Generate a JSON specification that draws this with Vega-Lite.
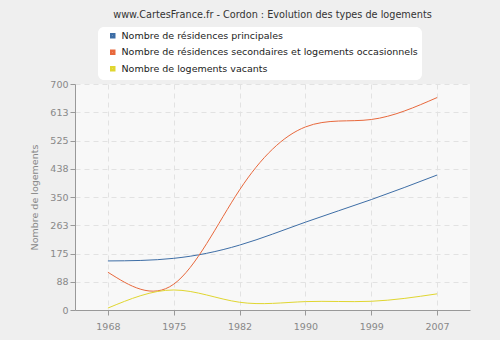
{
  "$schema": "https://vega.github.io/schema/vega-lite/v6.json",
  "width": 395,
  "height": 226,
  "autosize": "none",
  "padding": {"left": 75, "top": 84, "right": 30, "bottom": 30},
  "background": "#efefef",
  "title": {
    "text": "www.CartesFrance.fr - Cordon : Evolution des types de logements",
    "font": "DejaVu Sans",
    "fontSize": 9.7,
    "fontWeight": "normal",
    "color": "#333333",
    "anchor": "middle",
    "offset": 7
  },
  "config": {
    "view": {"fill": "#f8f8f8", "stroke": null},
    "font": "DejaVu Sans"
  },
  "data": {
    "values": [
      {"annee": "1968", "serie": "Nombre de résidences principales", "valeur": 152},
      {"annee": "1975", "serie": "Nombre de résidences principales", "valeur": 160},
      {"annee": "1982", "serie": "Nombre de résidences principales", "valeur": 201},
      {"annee": "1990", "serie": "Nombre de résidences principales", "valeur": 272},
      {"annee": "1999", "serie": "Nombre de résidences principales", "valeur": 342},
      {"annee": "2007", "serie": "Nombre de résidences principales", "valeur": 418},
      {"annee": "1968", "serie": "Nombre de résidences secondaires et logements occasionnels", "valeur": 117},
      {"annee": "1975", "serie": "Nombre de résidences secondaires et logements occasionnels", "valeur": 80},
      {"annee": "1982", "serie": "Nombre de résidences secondaires et logements occasionnels", "valeur": 372},
      {"annee": "1990", "serie": "Nombre de résidences secondaires et logements occasionnels", "valeur": 567},
      {"annee": "1999", "serie": "Nombre de résidences secondaires et logements occasionnels", "valeur": 590},
      {"annee": "2007", "serie": "Nombre de résidences secondaires et logements occasionnels", "valeur": 658},
      {"annee": "1968", "serie": "Nombre de logements vacants", "valeur": 6},
      {"annee": "1975", "serie": "Nombre de logements vacants", "valeur": 62},
      {"annee": "1982", "serie": "Nombre de logements vacants", "valeur": 24},
      {"annee": "1990", "serie": "Nombre de logements vacants", "valeur": 26},
      {"annee": "1999", "serie": "Nombre de logements vacants", "valeur": 27},
      {"annee": "2007", "serie": "Nombre de logements vacants", "valeur": 50}
    ]
  },
  "mark": {"type": "line", "interpolate": "natural", "strokeWidth": 1},
  "encoding": {
    "x": {
      "field": "annee",
      "type": "ordinal",
      "scale": {"type": "point", "padding": 0.5},
      "axis": {
        "title": null,
        "labelAngle": 0,
        "labelColor": "#888888",
        "labelFontSize": 9.5,
        "labelPadding": 6,
        "domainColor": "#999999",
        "tickColor": "#999999",
        "tickSize": 5,
        "grid": true,
        "gridColor": "#e2e2e2",
        "gridDash": [5, 4]
      }
    },
    "y": {
      "field": "valeur",
      "type": "quantitative",
      "scale": {"domain": [0, 700], "nice": false, "zero": true},
      "axis": {
        "title": "Nombre de logements",
        "titleColor": "#888888",
        "titleFontSize": 9.5,
        "titleFontWeight": "normal",
        "titlePadding": 10,
        "values": [0, 87.5, 175, 262.5, 350, 437.5, 525, 612.5, 700],
        "format": ".0f",
        "labelColor": "#888888",
        "labelFontSize": 9.5,
        "domainColor": "#999999",
        "tickColor": "#999999",
        "tickSize": 5,
        "grid": true,
        "gridColor": "#e2e2e2",
        "gridDash": [5, 4]
      }
    },
    "color": {
      "field": "serie",
      "type": "nominal",
      "scale": {
        "domain": [
          "Nombre de résidences principales",
          "Nombre de résidences secondaires et logements occasionnels",
          "Nombre de logements vacants"
        ],
        "range": ["#3e6ea6", "#e8683c", "#e0d630"]
      },
      "legend": {
        "title": null,
        "orient": "none",
        "legendX": 23,
        "legendY": -57,
        "direction": "vertical",
        "symbolType": "square",
        "symbolSize": 9,
        "symbolStrokeWidth": 2.5,
        "symbolOffset": 6,
        "labelFontSize": 9.5,
        "labelColor": "#222222",
        "labelLimit": 400,
        "labelOffset": 4,
        "rowPadding": 2.5,
        "fillColor": "white",
        "cornerRadius": 6,
        "padding": 4,
        "strokeColor": null
      }
    }
  }
}
